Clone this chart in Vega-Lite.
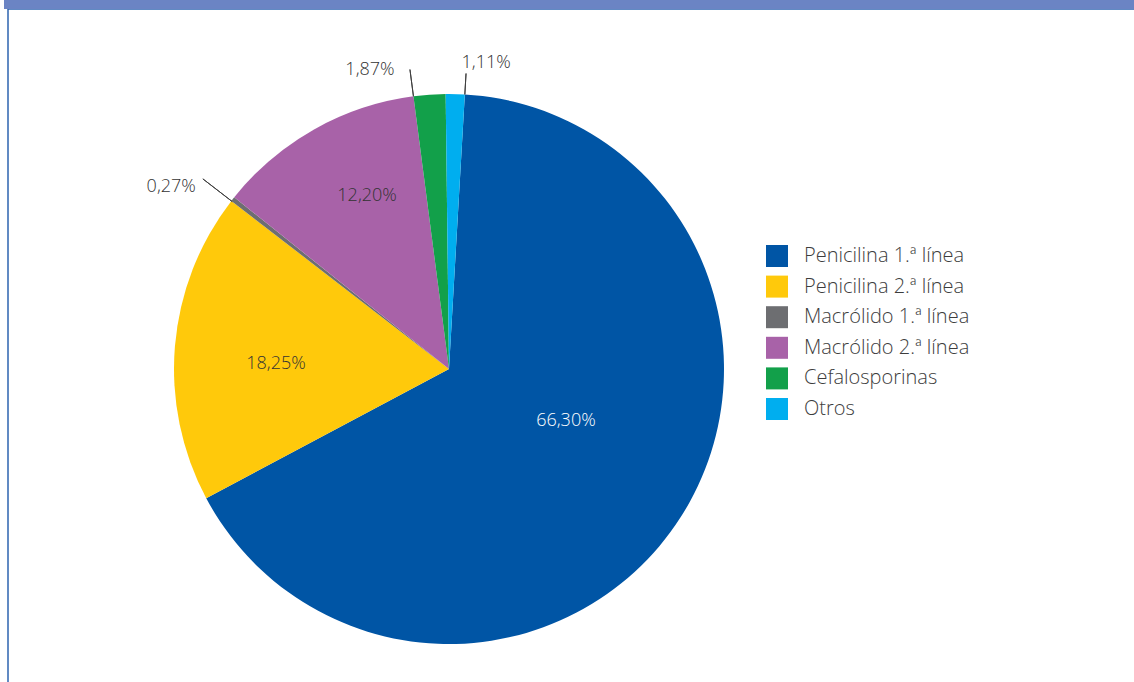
{
  "$schema": "https://vega.github.io/schema/vega-lite/v6.json",
  "width": 1130,
  "height": 675,
  "autosize": {"type": "none"},
  "padding": {"left": 8, "top": 9, "right": 0, "bottom": 0},
  "background": "white",
  "config": {
    "view": {"fill": "white", "stroke": "#2e64b0", "strokeWidth": 1.5},
    "font": "Open Sans",
    "text": {"font": "Open Sans", "fontSize": 18, "fontWeight": 300, "color": "#333333"}
  },
  "data": {
    "values": [
      {"cat": "Penicilina 1.ª línea", "value": 66.30, "label": "66,30%", "order": 1},
      {"cat": "Penicilina 2.ª línea", "value": 18.25, "label": "18,25%", "order": 2},
      {"cat": "Macrólido 1.ª línea", "value": 0.27, "label": "0,27%", "order": 3},
      {"cat": "Macrólido 2.ª línea", "value": 12.20, "label": "12,20%", "order": 4},
      {"cat": "Cefalosporinas", "value": 1.87, "label": "1,87%", "order": 5},
      {"cat": "Otros", "value": 1.11, "label": "1,11%", "order": 6}
    ]
  },
  "transform": [
    {"stack": "value", "groupby": [], "sort": [{"field": "order", "order": "ascending"}], "as": ["v0", "v1"]}
  ],
  "layer": [
    {
      "transform": [{"filter": "datum.order === 1"}],
      "mark": {"type": "point", "opacity": 0},
      "encoding": {
        "x": {
          "datum": 0, "type": "quantitative", "scale": {"domain": [0, 1]},
          "axis": {"orient": "top", "offset": 5, "domainColor": "#6b84c4", "domainWidth": 9, "domainCap": "square", "ticks": false, "labels": false, "grid": false, "title": null}
        }
      }
    },
    {
      "mark": {"type": "arc", "radius": 275, "x": 441, "y": 360},
      "encoding": {
        "theta": {"field": "v0", "type": "quantitative", "scale": {"domain": [0, 100], "range": [0.0576, 6.3408]}},
        "theta2": {"field": "v1"},
        "color": {
          "field": "cat", "type": "nominal",
          "scale": {
            "domain": ["Penicilina 1.ª línea", "Penicilina 2.ª línea", "Macrólido 1.ª línea", "Macrólido 2.ª línea", "Cefalosporinas", "Otros"],
            "range": ["#0055a5", "#ffc90b", "#6d6e71", "#a862a8", "#12a04a", "#00aeef"]
          },
          "legend": {
            "orient": "none", "legendX": 758, "legendY": 236, "title": null,
            "symbolType": "square", "symbolSize": 484, "symbolStrokeWidth": 0, "symbolOpacity": 1,
            "labelFont": "Open Sans", "labelFontSize": 20, "labelFontWeight": 300, "labelColor": "#3d3d3d",
            "rowPadding": 8.6, "labelOffset": 16, "padding": 0, "labelLimit": 400
          }
        }
      }
    },
    {
      "transform": [{"filter": "datum.cat === 'Macrólido 1.ª línea'"}],
      "mark": {"type": "arc", "filled": false, "stroke": "#404040", "strokeWidth": 1, "radius": 311, "radius2": 274, "x": 441, "y": 360},
      "encoding": {
        "theta": {"field": "v0", "type": "quantitative", "scale": {"domain": [0, 100], "range": [0.0576, 6.3408]}},
        "theta2": {"field": "v0"}
      }
    },
    {
      "transform": [{"filter": "datum.cat === 'Cefalosporinas'"}],
      "mark": {"type": "arc", "filled": false, "stroke": "#404040", "strokeWidth": 1, "radius": 302, "radius2": 275, "x": 441, "y": 360},
      "encoding": {
        "theta": {"field": "v0", "type": "quantitative", "scale": {"domain": [0, 100], "range": [0.0576, 6.3408]}},
        "theta2": {"field": "v0"}
      }
    },
    {
      "transform": [{"filter": "datum.cat === 'Otros'"}],
      "mark": {"type": "arc", "filled": false, "stroke": "#404040", "strokeWidth": 1, "radius": 296, "radius2": 275, "x": 441, "y": 360},
      "encoding": {
        "theta": {"field": "v1", "type": "quantitative", "scale": {"domain": [0, 100], "range": [0.0576, 6.3408]}},
        "theta2": {"field": "v1"}
      }
    },
    {
      "transform": [{"filter": "datum.cat === 'Penicilina 1.ª línea'"}],
      "mark": {"type": "text", "radius": 128, "x": 441, "y": 360, "thetaOffset": 1.932, "color": "white"},
      "encoding": {
        "theta": {"field": "v0", "type": "quantitative", "scale": {"domain": [0, 100], "range": [0.0576, 6.3408]}},
        "text": {"field": "label"}
      }
    },
    {
      "transform": [{"filter": "datum.cat === 'Penicilina 2.ª línea'"}],
      "mark": {"type": "text", "radius": 173, "x": 441, "y": 360, "thetaOffset": 0.518},
      "encoding": {
        "theta": {"field": "v0", "type": "quantitative", "scale": {"domain": [0, 100], "range": [0.0576, 6.3408]}},
        "text": {"field": "label"}
      }
    },
    {
      "transform": [{"filter": "datum.cat === 'Macrólido 2.ª línea'"}],
      "mark": {"type": "text", "radius": 191, "x": 441, "y": 360, "thetaOffset": 0.453},
      "encoding": {
        "theta": {"field": "v0", "type": "quantitative", "scale": {"domain": [0, 100], "range": [0.0576, 6.3408]}},
        "text": {"field": "label"}
      }
    },
    {
      "transform": [{"filter": "datum.cat === 'Macrólido 1.ª línea'"}],
      "mark": {"type": "text", "radius": 332, "x": 441, "y": 360, "thetaOffset": -0.078},
      "encoding": {
        "theta": {"field": "v0", "type": "quantitative", "scale": {"domain": [0, 100], "range": [0.0576, 6.3408]}},
        "text": {"field": "label"}
      }
    },
    {
      "transform": [{"filter": "datum.cat === 'Cefalosporinas'"}],
      "mark": {"type": "text", "radius": 309, "x": 441, "y": 360, "thetaOffset": -0.129},
      "encoding": {
        "theta": {"field": "v0", "type": "quantitative", "scale": {"domain": [0, 100], "range": [0.0576, 6.3408]}},
        "text": {"field": "label"}
      }
    },
    {
      "transform": [{"filter": "datum.cat === 'Otros'"}],
      "mark": {"type": "text", "radius": 308, "x": 441, "y": 360, "thetaOffset": 0.133},
      "encoding": {
        "theta": {"field": "v0", "type": "quantitative", "scale": {"domain": [0, 100], "range": [0.0576, 6.3408]}},
        "text": {"field": "label"}
      }
    }
  ]
}
